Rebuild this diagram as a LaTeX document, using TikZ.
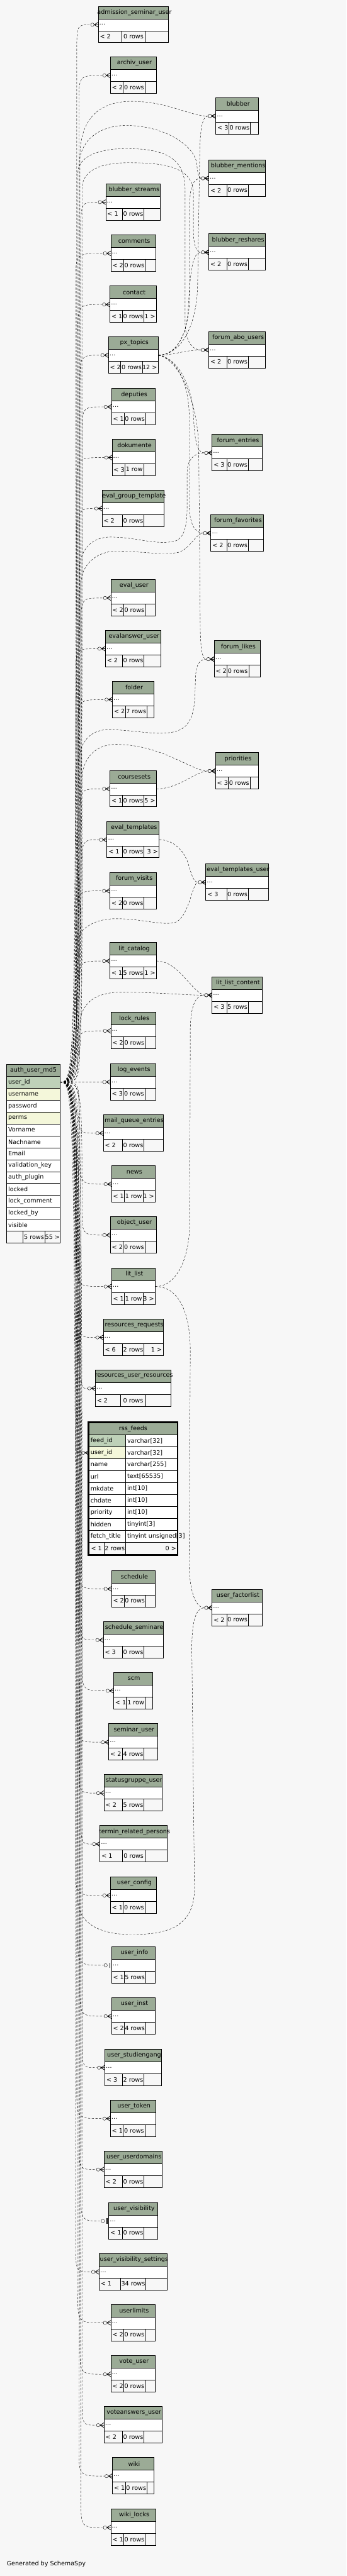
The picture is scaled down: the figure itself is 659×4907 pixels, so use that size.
\documentclass[tikz,border=0pt]{standalone}
\usepackage{fontspec}
\setmainfont{DejaVu Sans}
\usetikzlibrary{calc}

\definecolor{headcol}{HTML}{9BAB96}
\definecolor{pkcol}{HTML}{BED1B8}
\definecolor{idxcol}{HTML}{F4F7DA}
\definecolor{bgcol}{HTML}{F7F7F7}
\newcommand{\tblfont}{\fontsize{11.5}{13}\selectfont}

\tikzset{
  cellline/.style={draw=black,line width=0.6pt},
  colcell/.style={draw,fill=white,line width=0.6pt,anchor=north west,outer sep=0pt,inner xsep=3pt,inner ysep=0pt,minimum height=22.7pt,align=left},
  authcell/.style={colcell,text width=95.6pt},
  footcell/.style={draw,line width=0.6pt,anchor=north west,outer sep=0pt,inner sep=0pt,minimum height=22.7pt},
  dotsrow/.style={anchor=west,inner xsep=2pt,inner ysep=0pt,align=left},
  fkline/.style={draw,line width=0.5pt,dash pattern=on 4pt off 3pt},
  crowfoot/.pic={
    \draw[line width=0.5pt,fill=bgcol] (-11,0) circle (3.2);
    \draw[line width=0.9pt] (-7.5,0) -- (0,-4.5) (-7.5,0) -- (0,0) (-7.5,0) -- (0,4.5);
  },
  zeroone/.pic={
    \draw[line width=0.5pt,fill=bgcol] (-11,0) circle (3.2);
    \draw[line width=1.6pt] (-3,-5) -- (-3,5);
  }
}

% [children]{name}{left}{top}{right}{div1}{div2}{parents}{rows}
\newcommand{\erdtable}[9][]{%
  \pgfmathsetmacro{\tbhb}{#4+24}%
  \pgfmathsetmacro{\tbrb}{#4+46.7}%
  \pgfmathsetmacro{\tbfb}{#4+69.4}%
  \pgfmathsetmacro{\tbw}{#5-#3-4}%
  \fill[headcol] (#3,#4) rectangle (#5,\tbhb);
  \fill[white] (#3,\tbhb) rectangle (#5,\tbrb);
  \draw[cellline] (#3,#4) rectangle (#5,\tbfb) (#3,\tbhb) -- (#5,\tbhb) (#3,\tbrb) -- (#5,\tbrb)
    (#6,\tbrb) -- (#6,\tbfb) (#7,\tbrb) -- (#7,\tbfb);
  \node (#2-title) at ({(#3+#5)/2+2},{#4+12}) {\detokenize{#2}};
  \node[dotsrow,text width=\tbw pt] (#2) at (#3,{#4+35.35}) {\ldots};
  \node[anchor=west,inner xsep=3pt] (#2-p) at (#3,{#4+58.05}) {< #8};
  \node (#2-n) at ({(#6+#7)/2},{#4+58.05}) {#9};
  \node[anchor=east,inner xsep=2pt] (#2-c) at (#5,{#4+58.05}) {#1};
}

% [tip]{child}{bundle x}{bend}
\newcommand{\userfk}[4][crowfoot]{%
  \draw[fkline] (auth-uid.east) .. controls (#3,0 |- auth-uid.east) .. ($(#3,0 |- #2.west)+(0,#4)$)
    .. controls (#3,0 |- #2.west) .. ([xshift=-14.5pt]#2.west);
  \pic at (#2.west) {#1};
}

\begin{document}
\begin{tikzpicture}[x=1pt,y=-1pt,font=\tblfont]
\useasboundingbox (0,0) rectangle (659,4907);
\fill[bgcol] (0,0) rectangle (659,4907);

% auth_user_md5
\node[authcell,fill=headcol,align=center] (auth) at (12.7,2027.3) {auth\_user\_md5};
\node[authcell,fill=pkcol] (auth-uid) at (auth.south west) {user\_id};
\node[authcell,fill=idxcol] (auth-uname) at (auth-uid.south west) {username};
\node[authcell] (auth-pw) at (auth-uname.south west) {password};
\node[authcell,fill=idxcol] (auth-perms) at (auth-pw.south west) {perms};
\node[authcell] (auth-vn) at (auth-perms.south west) {Vorname};
\node[authcell] (auth-nn) at (auth-vn.south west) {Nachname};
\node[authcell] (auth-mail) at (auth-nn.south west) {Email};
\node[authcell] (auth-key) at (auth-mail.south west) {validation\_key};
\node[authcell] (auth-plug) at (auth-key.south west) {auth\_plugin};
\node[authcell] (auth-lock) at (auth-plug.south west) {locked};
\node[authcell] (auth-lcom) at (auth-lock.south west) {lock\_comment};
\node[authcell] (auth-lby) at (auth-lcom.south west) {locked\_by};
\node[authcell] (auth-vis) at (auth-lby.south west) {visible};
\node[footcell,minimum width=31.3pt] (auth-f1) at (auth-vis.south west) {};
\node[footcell,minimum width=41.3pt] (auth-f2) at (auth-f1.north east) {5 rows};
\node[footcell,minimum width=29pt] (auth-f3) at (auth-f2.north east) {55 >};

% rss_feeds
\node[colcell,fill=headcol,text width=162pt,align=center] (rss) at (169.3,2710.6) {rss\_feeds};
\node[colcell,fill=pkcol,text width=63.7pt] (rss-fid) at (rss.south west) {feed\_id};
\node[colcell,text width=92.3pt] (rss-fid-t) at (rss-fid.north east) {varchar[32]};
\node[colcell,fill=idxcol,text width=63.7pt] (rss-uid) at (rss-fid.south west) {user\_id};
\node[colcell,text width=92.3pt] (rss-uid-t) at (rss-uid.north east) {varchar[32]};
\node[colcell,text width=63.7pt] (rss-name) at (rss-uid.south west) {name};
\node[colcell,text width=92.3pt] (rss-name-t) at (rss-name.north east) {varchar[255]};
\node[colcell,text width=63.7pt] (rss-url) at (rss-name.south west) {url};
\node[colcell,text width=92.3pt] (rss-url-t) at (rss-url.north east) {text[65535]};
\node[colcell,text width=63.7pt] (rss-mk) at (rss-url.south west) {mkdate};
\node[colcell,text width=92.3pt] (rss-mk-t) at (rss-mk.north east) {int[10]};
\node[colcell,text width=63.7pt] (rss-ch) at (rss-mk.south west) {chdate};
\node[colcell,text width=92.3pt] (rss-ch-t) at (rss-ch.north east) {int[10]};
\node[colcell,text width=63.7pt] (rss-prio) at (rss-ch.south west) {priority};
\node[colcell,text width=92.3pt] (rss-prio-t) at (rss-prio.north east) {int[10]};
\node[colcell,text width=63.7pt] (rss-hid) at (rss-prio.south west) {hidden};
\node[colcell,text width=92.3pt] (rss-hid-t) at (rss-hid.north east) {tinyint[3]};
\node[colcell,text width=63.7pt] (rss-ft) at (rss-hid.south west) {fetch\_title};
\node[colcell,text width=92.3pt] (rss-ft-t) at (rss-ft.north east) {\mbox{tinyint unsigned[3]}};
\node[footcell,minimum width=28.4pt] (rss-f1) at (rss-ft.south west) {< 1};
\node[footcell,minimum width=41.3pt] (rss-f2) at (rss-f1.north east) {2 rows};
\node[footcell,text width=94.3pt,inner xsep=2pt,align=right] (rss-f3) at (rss-f2.north east) {0 >};
\draw[line width=2.2pt] (168.2,2708.8) rectangle (338.2,2962.2);

\erdtable{admission_seminar_user}{186.7}{11.7}{320.7}{231.7}{276.3}{2}{0 rows}
\erdtable{archiv_user}{209.7}{108.3}{297.7}{234.3}{275.7}{2}{0 rows}
\erdtable{blubber}{410.3}{185.7}{492}{435}{476.3}{3}{0 rows}
\erdtable{blubber_mentions}{397}{304.3}{505}{431}{472.3}{2}{0 rows}
\erdtable{blubber_streams}{201}{349.7}{305}{232.7}{274}{1}{0 rows}
\erdtable{blubber_reshares}{397}{445.3}{505}{431}{472.3}{2}{0 rows}
\erdtable{comments}{210.7}{447.3}{296}{235}{276.3}{2}{0 rows}
\erdtable[1 >]{contact}{209}{544.7}{297.7}{232.7}{274}{1}{0 rows}
\erdtable{forum_abo_users}{397}{631.3}{505}{431}{472.3}{2}{0 rows}
\erdtable[12 >]{px_topics}{206}{641.3}{301}{229.7}{271}{2}{0 rows}
\erdtable{deputies}{212}{739.7}{294.7}{236}{277}{1}{0 rows}
\erdtable{forum_entries}{403.3}{827.3}{498.3}{431}{472.3}{3}{0 rows}
\erdtable{dokumente}{213}{836.3}{294.7}{237.3}{273.3}{3}{1 row}
\erdtable{eval_group_template}{194}{933.3}{312}{232.7}{274}{2}{0 rows}
\erdtable{forum_favorites}{401}{980.3}{500.7}{431}{472.3}{2}{0 rows}
\erdtable{eval_user}{210.7}{1103.7}{295.3}{235}{276.3}{2}{0 rows}
\erdtable{evalanswer_user}{200.3}{1200.3}{305.7}{232.7}{274}{2}{0 rows}
\erdtable{forum_likes}{407.3}{1220.3}{495.3}{431.7}{473}{2}{0 rows}
\erdtable{folder}{213.7}{1297.3}{292.7}{238.3}{279.7}{2}{7 rows}
\erdtable{priorities}{409.7}{1433.3}{492}{434.3}{475.7}{3}{0 rows}
\erdtable[5 >]{coursesets}{209}{1467.3}{297.7}{232.7}{274}{1}{0 rows}
\erdtable[3 >]{eval_templates}{203.3}{1564.3}{302.7}{232.7}{274}{1}{0 rows}
\erdtable{eval_templates_user}{391.3}{1645.3}{510.3}{431}{472.3}{3}{0 rows}
\erdtable{forum_visits}{209}{1661.7}{297.7}{232.7}{274}{2}{0 rows}
\erdtable[1 >]{lit_catalog}{209}{1795.3}{297.7}{232.7}{274}{1}{5 rows}
\erdtable{lit_list_content}{403.3}{1860.3}{498.3}{431}{472.3}{3}{5 rows}
\erdtable{lock_rules}{210.7}{1928.3}{296}{235}{276.3}{2}{0 rows}
\erdtable{log_events}{209.7}{2025.7}{296}{234.3}{275.7}{3}{0 rows}
\erdtable{mail_queue_entries}{196.3}{2123.3}{310.3}{232.7}{274}{2}{0 rows}
\erdtable[1 >]{news}{212}{2220.3}{295.3}{236}{272.3}{1}{1 row}
\erdtable{object_user}{209.7}{2317.3}{297.7}{234.3}{275.7}{2}{0 rows}
\erdtable[3 >]{lit_list}{212}{2415.3}{295.3}{236}{272.3}{1}{1 row}
\erdtable[1 >]{resources_requests}{196.3}{2512.3}{310.3}{232.7}{274}{6}{2 rows}
\erdtable{resources_user_resources}{181}{2609.3}{324.7}{229.7}{277}{2}{0 rows}
\erdtable{schedule}{212}{2991.3}{295.3}{236}{277}{2}{0 rows}
\erdtable{user_factorlist}{403.3}{3027.3}{498.3}{431}{472.3}{2}{0 rows}
\erdtable{schedule_seminare}{196.3}{3088.7}{310.3}{232.7}{274}{3}{0 rows}
\erdtable{scm}{216}{3185.3}{289.7}{240.3}{276.3}{1}{1 row}
\erdtable{seminar_user}{206.7}{3283.3}{299.3}{232.7}{274}{2}{4 rows}
\erdtable{statusgruppe_user}{197.7}{3380.3}{308}{232.7}{274}{2}{5 rows}
\erdtable{termin_related_persons}{190}{3477.3}{317.7}{232.7}{275.7}{1}{0 rows}
\erdtable{user_config}{209.7}{3575.3}{297.7}{234.3}{275.7}{1}{0 rows}
\erdtable{user_info}{212}{3708.3}{295.3}{236}{277}{1}{5 rows}
\erdtable{user_inst}{212}{3805.3}{295.3}{236}{277}{2}{4 rows}
\erdtable{user_studiengang}{199.3}{3903.3}{307}{232.7}{274}{3}{2 rows}
\erdtable{user_token}{209.7}{4000.3}{296}{234.3}{275.7}{1}{0 rows}
\erdtable{user_userdomains}{197.7}{4097.3}{308}{232.7}{274}{2}{0 rows}
\erdtable{user_visibility}{206.7}{4195.3}{299.3}{232.7}{274}{1}{0 rows}
\erdtable{user_visibility_settings}{188.3}{4292.3}{317.7}{229.7}{277}{1}{34 rows}
\erdtable{userlimits}{210.7}{4389.3}{295.3}{235}{276.3}{2}{0 rows}
\erdtable{vote_user}{210.7}{4487.3}{295.3}{235}{276.3}{2}{0 rows}
\erdtable{voteanswers_user}{197.7}{4584.3}{308}{232.7}{274}{2}{0 rows}
\erdtable{wiki}{213.7}{4681.3}{292.7}{238.3}{279.7}{1}{0 rows}
\erdtable{wiki_locks}{210.7}{4779.3}{296}{235}{276.3}{1}{0 rows}

% auth_user_md5.user_id -> left column
\userfk{admission_seminar_user}{146}{55}
\userfk{archiv_user}{150}{55}
\userfk{blubber_streams}{154}{55}
\userfk{comments}{144}{55}
\userfk{contact}{148}{55}
\userfk{px_topics}{152}{55}
\userfk{deputies}{156}{55}
\userfk{dokumente}{146}{55}
\userfk{eval_group_template}{150}{55}
\userfk{eval_user}{154}{55}
\userfk{evalanswer_user}{144}{55}
\userfk{folder}{148}{55}
\userfk{coursesets}{152}{55}
\userfk{eval_templates}{156}{55}
\userfk{forum_visits}{146}{55}
\userfk{lit_catalog}{150}{55}
\userfk{lock_rules}{148}{48}
\userfk{log_events}{150}{0}
\userfk{mail_queue_entries}{150}{-48}
\userfk{news}{152}{-55}
\userfk{object_user}{156}{-55}
\userfk{lit_list}{146}{-55}
\userfk{resources_requests}{150}{-55}
\userfk{resources_user_resources}{154}{-55}
\userfk{rss-uid}{144}{-35}
\userfk{schedule}{148}{-55}
\userfk{schedule_seminare}{152}{-55}
\userfk{scm}{156}{-55}
\userfk{seminar_user}{146}{-55}
\userfk{statusgruppe_user}{150}{-55}
\userfk{termin_related_persons}{154}{-55}
\userfk{user_config}{144}{-55}
\userfk[zeroone]{user_info}{148}{-55}
\userfk{user_inst}{152}{-55}
\userfk{user_studiengang}{156}{-55}
\userfk{user_token}{146}{-55}
\userfk{user_userdomains}{150}{-55}
\userfk[zeroone]{user_visibility}{154}{-55}
\userfk{user_visibility_settings}{144}{-55}
\userfk{userlimits}{148}{-55}
\userfk{vote_user}{152}{-55}
\userfk{voteanswers_user}{156}{-55}
\userfk{wiki}{150}{-55}
\userfk{wiki_locks}{154}{-55}

% auth_user_md5.user_id -> right column
\draw[fkline] (auth-uid.east) .. controls (152,2061.35) .. (152,300) .. controls (152,215) and (200,193) .. (250,193)
  .. controls (320,193) and (360,221.05) .. ([xshift=-14.5pt]blubber.west);
\pic at (blubber.west) {crowfoot};
\draw[fkline] (auth-uid.east) .. controls (150,2061.35) .. (150,320) .. controls (150,262) and (195,239) .. (240,239)
  .. controls (310,239) and (368,275) .. (374,310) .. controls (376,330) and (378,339.65) .. ([xshift=-14.5pt]blubber_mentions.west);
\pic at (blubber_mentions.west) {crowfoot};
\draw[fkline] (auth-uid.east) .. controls (156,2061.35) .. (156,360) .. controls (156,320) and (200,310) .. (245,310)
  .. controls (320,310) and (368,320) .. (368,370) -- (368,440) .. controls (368,470) and (375,480.65) .. ([xshift=-14.5pt]blubber_reshares.west);
\pic at (blubber_reshares.west) {crowfoot};
\draw[fkline] (auth-uid.east) .. controls (148,2061.35) .. (148,330) .. controls (148,295) and (195,283) .. (240,283)
  .. controls (320,283) and (352,305) .. (352,360) -- (352,610) .. controls (352,650) and (365,666.65) .. ([xshift=-14.5pt]forum_abo_users.west);
\pic at (forum_abo_users.west) {crowfoot};
\draw[fkline] (auth-uid.east) .. controls (150,2061.35) .. (150,1090) .. controls (152,1040) and (180,1023) .. (210,1023)
  .. controls (260,1023) and (300,1040) .. (335,1030) .. controls (352,1022) and (356,1000) .. (356,960) -- (356,900)
  .. controls (356,875) and (370,862.65) .. ([xshift=-14.5pt]forum_entries.west);
\pic at (forum_entries.west) {crowfoot};
\draw[fkline] (auth-uid.east) .. controls (154,2061.35) .. (154,1110) .. controls (156,1070) and (190,1050) .. (220,1050)
  .. controls (270,1050) and (300,1057) .. (335,1053) .. controls (360,1050) and (372,1015.65) .. ([xshift=-14.5pt]forum_favorites.west);
\pic at (forum_favorites.west) {crowfoot};
\draw[fkline] (auth-uid.east) .. controls (150,2061.35) .. (150,1450) .. controls (152,1410) and (175,1390) .. (205,1390)
  .. controls (260,1390) and (300,1403) .. (335,1393) .. controls (362,1385) and (370,1360) .. (371,1320) -- (372,1290)
  .. controls (373,1265) and (380,1255.65) .. ([xshift=-14.5pt]forum_likes.west);
\pic at (forum_likes.west) {crowfoot};
\draw[fkline] (auth-uid.east) .. controls (156,2061.35) .. (156,1480) .. controls (160,1435) and (190,1418) .. (220,1418)
  .. controls (290,1418) and (340,1450) .. (370,1462) .. controls (380,1466) and (388,1468.65) .. ([xshift=-14.5pt]priorities.west);
\pic at (priorities.west) {crowfoot};
\draw[fkline] (auth-uid.east) .. controls (146,2061.35) .. (146,1800) .. controls (148,1765) and (185,1750) .. (220,1750)
  .. controls (270,1750) and (300,1762) .. (330,1758) .. controls (360,1752) and (365,1680.65) .. ([xshift=-14.5pt]eval_templates_user.west);
\pic at (eval_templates_user.west) {crowfoot};
\draw[fkline] (auth-uid.east) .. controls (152,2061.35) .. (152,1950) .. controls (154,1905) and (190,1890) .. (230,1890)
  .. controls (300,1890) and (350,1895.65) .. ([xshift=-14.5pt]lit_list_content.west);
\pic at (lit_list_content.west) {crowfoot};
\draw[fkline] (auth-uid.east) .. controls (148,2061.35) .. (148,3620) .. controls (150,3670) and (200,3685) .. (250,3685)
  .. controls (320,3685) and (368,3670) .. (370,3600) -- (365,3150) .. controls (364,3090) and (372,3062.65) .. ([xshift=-14.5pt]user_factorlist.west);
\pic at (user_factorlist.west) {crowfoot};

% px_topics -> forum and blubber tables
\draw[fkline] (px_topics.east) .. controls (345,676) and (375,620) .. (376,540) -- (380,290)
  .. controls (381,240) and (386,221.05) .. ([xshift=-14.5pt]blubber.west);
\pic at (blubber.west) {crowfoot};
\draw[fkline] (px_topics.east) .. controls (340,676) and (360,630) .. (361,560) -- (361,390)
  .. controls (361,355) and (368,339.65) .. ([xshift=-14.5pt]blubber_mentions.west);
\pic at (blubber_mentions.west) {crowfoot};
\draw[fkline] (px_topics.east) .. controls (335,676) and (355,640) .. (358,590)
  .. controls (362,520) and (365,480.65) .. ([xshift=-14.5pt]blubber_reshares.west);
\pic at (blubber_reshares.west) {crowfoot};
\draw[fkline] (px_topics.east) .. controls (330,676.65) and (350,667) .. ([xshift=-14.5pt]forum_abo_users.west);
\pic at (forum_abo_users.west) {crowfoot};
\draw[fkline] (px_topics.east) .. controls (335,680) and (365,730) .. (368,790)
  .. controls (370,840) and (375,862.65) .. ([xshift=-14.5pt]forum_entries.west);
\pic at (forum_entries.west) {crowfoot};
\draw[fkline] (px_topics.east) .. controls (330,680) and (358,720) .. (360,790) -- (360,960)
  .. controls (360,1000) and (372,1015.65) .. ([xshift=-14.5pt]forum_favorites.west);
\pic at (forum_favorites.west) {crowfoot};
\draw[fkline] (px_topics.east) .. controls (340,685) and (375,760) .. (378,850) -- (381,1200)
  .. controls (382,1240) and (385,1255.65) .. ([xshift=-14.5pt]forum_likes.west);
\pic at (forum_likes.west) {crowfoot};

% other parents
\draw[fkline] (coursesets.east) .. controls (340,1502.65) and (370,1470) .. ([xshift=-14.5pt]priorities.west);
\pic at (priorities.west) {crowfoot};
\draw[fkline] (eval_templates.east) .. controls (330,1599.65) and (350,1620) .. (358,1645)
  .. controls (364,1665) and (368,1680.65) .. ([xshift=-14.5pt]eval_templates_user.west);
\pic at (eval_templates_user.west) {crowfoot};
\draw[fkline] (lit_catalog.east) .. controls (340,1830.65) and (365,1890) .. ([xshift=-14.5pt]lit_list_content.west);
\pic at (lit_list_content.west) {crowfoot};
\draw[fkline] (lit_list.east) .. controls (335,2450.65) and (360,2400) .. (361,2330) -- (362,1960)
  .. controls (363,1915) and (372,1895.65) .. ([xshift=-14.5pt]lit_list_content.west);
\pic at (lit_list_content.west) {crowfoot};
\draw[fkline] (lit_list.east) .. controls (335,2450.65) and (361,2490) .. (362,2570) -- (360,2970)
  .. controls (359,3030) and (372,3062.65) .. ([xshift=-14.5pt]user_factorlist.west);
\pic at (user_factorlist.west) {crowfoot};

\node[anchor=west,inner xsep=0pt] (credit) at (12.7,4884) {Generated by SchemaSpy};
\end{tikzpicture}
\end{document}
